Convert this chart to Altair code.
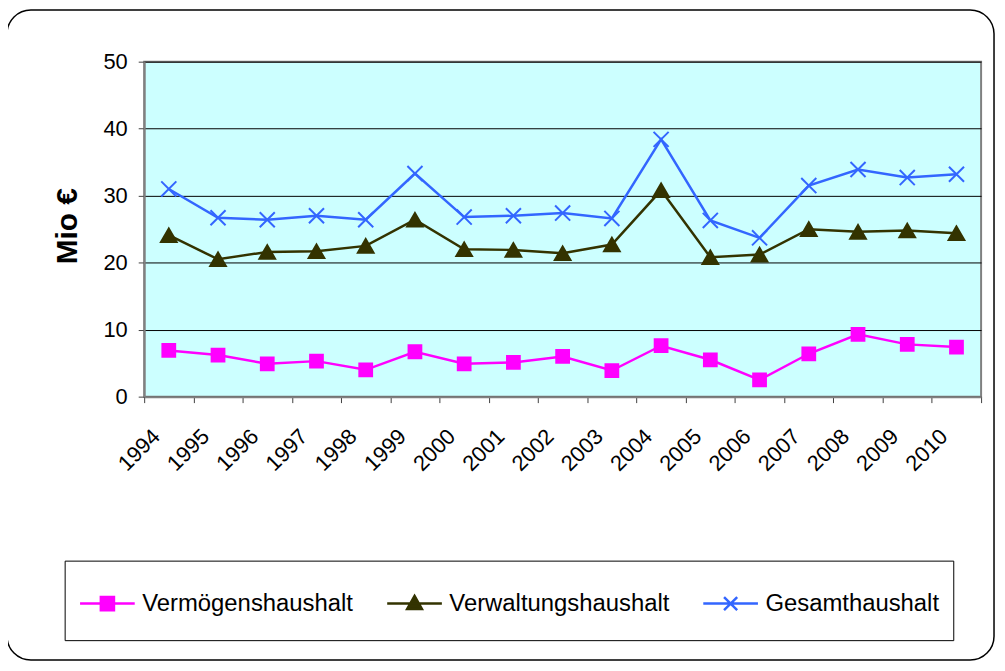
import altair as alt
import pandas as pd

# ---- data ----
years = [str(y) for y in range(1994, 2011)]
series = ["Vermögenshaushalt", "Verwaltungshaushalt", "Gesamthaushalt"]
vermoegen = [6.9, 6.2, 4.9, 5.3, 4.0, 6.7, 4.9, 5.1, 6.0, 3.9, 7.6, 5.5, 2.5, 6.4, 9.3, 7.8, 7.4]
verwaltung = [24.1, 20.5, 21.6, 21.7, 22.5, 26.4, 22.0, 21.9, 21.4, 22.7, 30.8, 20.8, 21.2, 25.0, 24.6, 24.8, 24.4]
gesamt = [31.0, 26.7, 26.4, 27.0, 26.4, 33.3, 26.8, 27.0, 27.4, 26.6, 38.4, 26.3, 23.7, 31.5, 33.9, 32.7, 33.2]
y_ticks = [0, 10, 20, 30, 40, 50]

colors = ["#FF00FF", "#333300", "#3366FF"]
plot_shapes = ["square", "triangle-up", "M-1,-1L1,1M-1,1L1,-1"]
plot_sizes = [165, 250, 230]
# legend symbols: a short line with the series marker; the zero-length
# end points only give each legend row the height of the reference box
pad_pts = "M0,-0.64L0,-0.64M0,0.64L0,0.64"
legend_paths = [
    "M-1,0H1M-0.24,-0.24H0.24V0.24H-0.24Z" + pad_pts,
    "M-1,0H1M0,-0.28L0.27,0.2H-0.27Z" + pad_pts,
    "M-1,0H1M-0.24,-0.24L0.24,0.24M-0.24,0.24L0.24,-0.24" + pad_pts,
]

rows = []
for name, vals in zip(series, [vermoegen, verwaltung, gesamt]):
    for yr, v in zip(years, vals):
        rows.append({"Jahr": yr, "Wert": v, "Reihe": name})
df = pd.DataFrame(rows)

FONT = "Liberation Sans"
W, H = 842, 337

x_enc = alt.X(
    "Jahr:N",
    sort=years,
    bandPosition=0.5,
    scale=alt.Scale(type="band", paddingInner=0, paddingOuter=0),
    axis=alt.Axis(
        title=None,
        labelAngle=315,
        labelAlign="right",
        labelBaseline="middle",
        labelOffset=-13,
        labelPadding=30,
        labelFontSize=22,
        labelFont=FONT,
        labelColor="black",
        labelOverlap=False,
        tickBand="extent",
        tickSize=6,
        tickColor="#404040",
        domainColor="#808080",
        domainWidth=2,
        grid=False,
    ),
)
y_enc = alt.Y(
    "Wert:Q",
    scale=alt.Scale(domain=[0, 50], nice=False),
    axis=alt.Axis(
        values=y_ticks,
        title="Mio €",
        titleFont=FONT,
        titleFontSize=30,
        titleFontWeight="bold",
        titleColor="black",
        titleAngle=270,
        titleAlign="center",
        titleBaseline="middle",
        titleX=-77,
        titleY=165,
        labelFontSize=22,
        labelFont=FONT,
        labelColor="black",
        labelPadding=11,
        tickSize=6,
        tickColor="#404040",
        domainColor="#808080",
        domainWidth=2,
        grid=True,
        gridColor="black",
        gridWidth=1,
    ),
)

color_scale = alt.Scale(domain=series, range=colors)

lines = alt.Chart(df).mark_line(strokeWidth=2.5).encode(
    x=x_enc,
    y=y_enc,
    color=alt.Color("Reihe:N", scale=color_scale, legend=None),
)

point_layers = []
for name, col, shp, sz in zip(series, colors, plot_shapes, plot_sizes):
    point_layers.append(
        alt.Chart(df)
        .transform_filter(alt.datum.Reihe == name)
        .mark_point(shape=shp, filled=True, fill=col, stroke=col,
                    size=sz, strokeWidth=2, opacity=1)
        .encode(x=x_enc, y=y_enc)
    )

legend = alt.Legend(
    title=None,
    orient="none",
    legendX=-80,
    legendY=502,
    direction="horizontal",
    symbolSize=3025,
    symbolStrokeWidth=2.5,
    symbolOpacity=1,
    labelFont=FONT,
    labelFontSize=24,
    labelColor="black",
    labelOffset=6,
    labelLimit=0,
    columnPadding=28,
    padding=14,
    strokeColor="black",
    fillColor="white",
)

# invisible layer that only carries the legend (line + marker symbols)
legend_layer = (
    alt.Chart(df)
    .mark_point(filled=True, size=3025, strokeWidth=2.5)
    .encode(
        x=x_enc,
        y=y_enc,
        opacity=alt.value(0),
        fill=alt.Fill("Reihe:N", scale=color_scale, legend=legend),
        stroke=alt.Stroke("Reihe:N", scale=color_scale, legend=legend),
        shape=alt.Shape("Reihe:N", scale=alt.Scale(domain=series, range=legend_paths),
                        legend=legend),
    )
)

frame = alt.Chart(alt.Data(values=[{"f": 1}])).mark_rect(
    filled=False, stroke="black", strokeWidth=1.5, cornerRadius=24
).encode(
    x=alt.value(-138), x2=alt.value(855), y=alt.value(-52), y2=alt.value(602)
)

chart = (
    alt.layer(frame, legend_layer, lines, *point_layers)
    .properties(
        width=W,
        height=H,
        autosize=alt.AutoSizeParams(type="none"),
        padding={"left": 137, "top": 52, "right": 16, "bottom": 268},
        background="white",
    )
    .configure_view(fill="#CCFFFF", stroke="#808080", strokeWidth=2)
)

chart.save("out.html", embed_options={"renderer": "svg", "actions": False})
